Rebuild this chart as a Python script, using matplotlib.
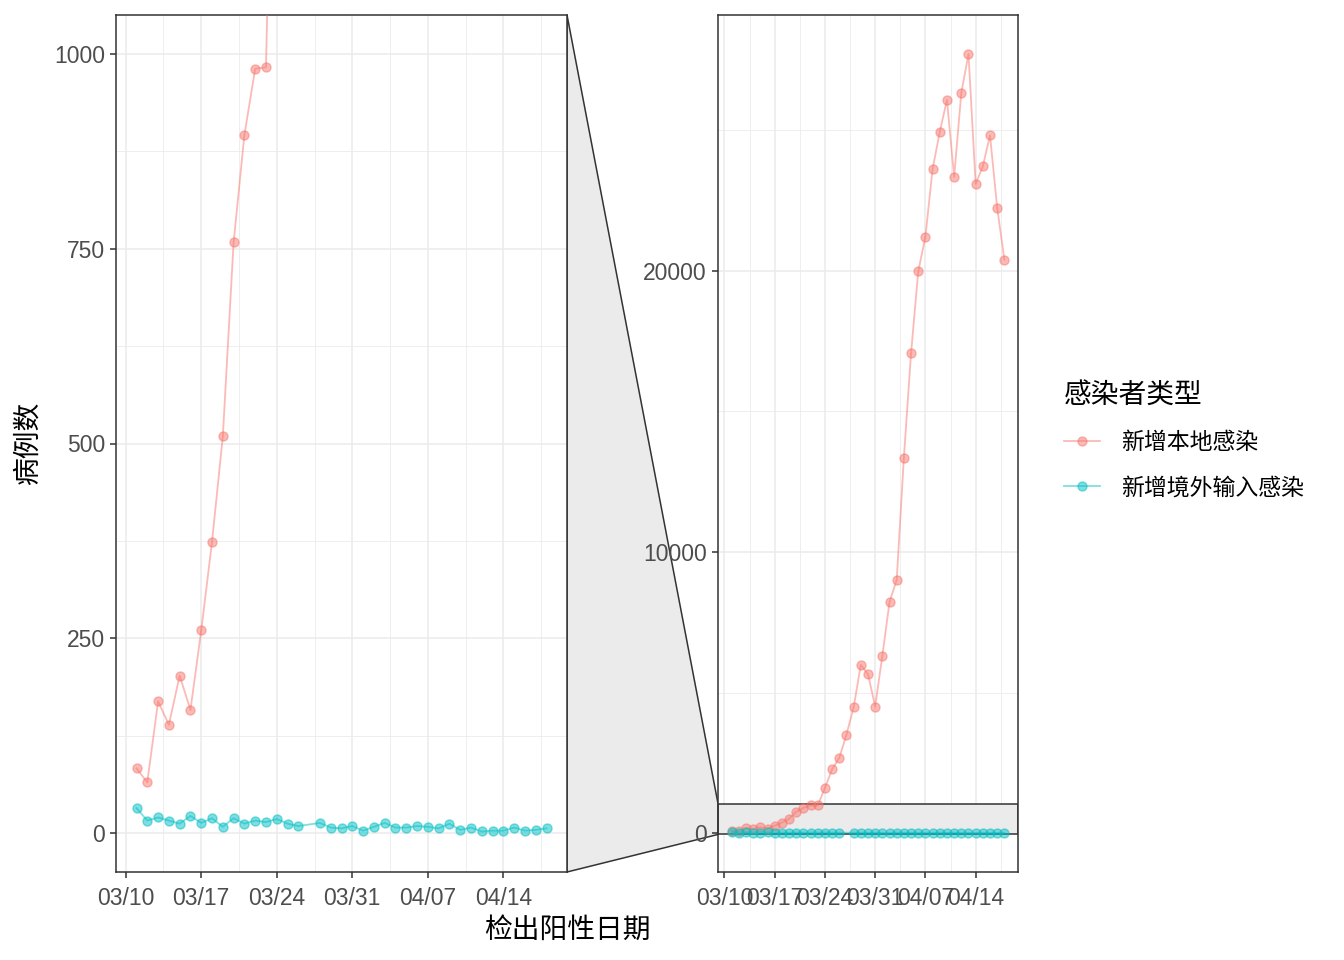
import numpy as np
import matplotlib
matplotlib.use('Agg')
import matplotlib.pyplot as plt
import matplotlib.dates as mdates
from matplotlib.lines import Line2D
from matplotlib.patches import Polygon, Rectangle
from matplotlib.ticker import FixedLocator, NullFormatter

plt.rcParams['font.family'] = ['Liberation Sans', 'Noto Sans CJK SC', 'DejaVu Sans']
CJK = ['Noto Sans CJK SC', 'DejaVu Sans']

# data: daily new cases, 03/11 .. 04/18
dates = np.arange('2022-03-11', '2022-04-19', dtype='datetime64[D]')
local = [83, 65, 169, 139, 202, 158, 260, 374, 509, 758, 896, 981, 983,
         1609, 2269, 2678, 3500, 4477, 5982, 5653, 4502, 6311, 8226, 9006,
         13354, 17077, 19982, 21222, 23624, 24944, 26087, 23342, 26330,
         27719, 23095, 23720, 24820, 22248, 20398]
imported = [32, 16, 20, 16, 12, 22, 13, 19, 8, 19, 12, 16, 14, 18, 12, 9,
            np.nan, 13, 7, 6, 9, 3, 8, 13, 7, 7, 9, 8, 6, 12, 4, 7, 2, 3,
            3, 7, 3, 4, 6]
series_names = ['新增本地感染', '新增境外输入感染']
colors = ['#F8766D', '#00BFC4']
zoom_ylim = (0, 1000)

W, H = 1344, 960
fig = plt.figure(figsize=(W / 100, H / 100), dpi=100)
ax1 = fig.add_axes([116 / W, 1 - 872 / H, (567 - 116) / W, (872 - 15) / H])
ax2 = fig.add_axes([718 / W, 1 - 872 / H, (1018 - 718) / W, (872 - 15) / H])

d0 = mdates.date2num(dates[0])
d1 = mdates.date2num(dates[-1])
pad = (d1 - d0) * 0.05
start = mdates.date2num(np.datetime64('2022-03-10'))
majors = [start + 7 * k for k in range(6)]
minors = [start + 3.5 + 7 * k for k in range(6)]

imp = np.array(imported, dtype=float)
ok = ~np.isnan(imp)
dnum = mdates.date2num(dates)

for ax in (ax1, ax2):
    ax.plot(dnum, local, '-o', color=colors[0], alpha=0.5, lw=1.3, ms=6.5,
            mec=colors[0], zorder=3)
    ax.plot(dnum[ok], imp[ok], '-o', color=colors[1], alpha=0.5, lw=1.3, ms=6.5,
            mec=colors[1], zorder=3)
    ax.set_xlim(d0 - pad, d1 + pad)
    ax.xaxis.set_major_locator(FixedLocator(majors))
    ax.xaxis.set_minor_locator(FixedLocator(minors))
    ax.xaxis.set_major_formatter(mdates.DateFormatter('%m/%d'))
    ax.xaxis.set_minor_formatter(NullFormatter())
    ax.grid(which='major', color='#ebebeb', lw=1.1, zorder=0)
    ax.grid(which='minor', color='#ebebeb', lw=0.6, zorder=0)
    ax.set_axisbelow(True)
    for s in ax.spines.values():
        s.set_color('#333333')
        s.set_linewidth(1.1)
    ax.tick_params(which='major', length=4, width=1.1, color='#333333',
                   labelsize=16.5, labelcolor='#4d4d4d', pad=4)
    ax.tick_params(axis='x', which='major', pad=7)
    ax.tick_params(which='minor', length=0)

# zoomed panel
zr = zoom_ylim[1] - zoom_ylim[0]
ax1.set_ylim(zoom_ylim[0] - 0.05 * zr, zoom_ylim[1] + 0.05 * zr)
ax1.yaxis.set_major_locator(FixedLocator([0, 250, 500, 750, 1000]))
ax1.yaxis.set_minor_locator(FixedLocator([125, 375, 625, 875]))

# full panel
top = max(local)
ax2.set_ylim(-0.05 * top, top * 1.05)
ax2.yaxis.set_major_locator(FixedLocator([0, 10000, 20000]))
ax2.yaxis.set_minor_locator(FixedLocator([5000, 15000, 25000]))
ylo, yhi = ax1.get_ylim()
x2lo, x2hi = ax2.get_xlim()
ax2.add_patch(Rectangle((x2lo, ylo), x2hi - x2lo, yhi - ylo, facecolor='#ebebeb',
                        edgecolor='#333333', lw=1.1, zorder=1.5))

# connecting band between panels
inv = fig.transFigure.inverted()
p1 = inv.transform(ax1.transAxes.transform((1, 1)))
p2 = inv.transform(ax2.transData.transform((x2lo, yhi)))
p3 = inv.transform(ax2.transData.transform((x2lo, ylo)))
p4 = inv.transform(ax1.transAxes.transform((1, 0)))
fig.add_artist(Polygon([p1, p2, p3, p4], closed=True, facecolor='#ebebeb',
                       edgecolor='#333333', lw=1.1, transform=fig.transFigure,
                       zorder=-1))

fig.text(28 / W, 1 - 443 / H, '病例数', family=CJK, fontsize=20,
         rotation=90, ha='center', va='center')
fig.text(567 / W, 1 - 930 / H, '检出阳性日期', family=CJK, fontsize=20,
         ha='center', va='center')

handles = [Line2D([], [], color=c, alpha=0.5, lw=1.3, marker='o', ms=6.5, mec=c)
           for c in colors]
leg = fig.legend(handles, series_names, title='感染者类型', loc='upper left',
                 bbox_to_anchor=(1043 / W, 1 - 359 / H), frameon=False,
                 prop={'family': CJK, 'size': 16.5}, handlelength=1.6,
                 handletextpad=0.9, labelspacing=0.95, alignment='left')
leg.get_title().set_fontproperties({'family': CJK, 'size': 20})

fig.savefig('out.png', dpi=100)
